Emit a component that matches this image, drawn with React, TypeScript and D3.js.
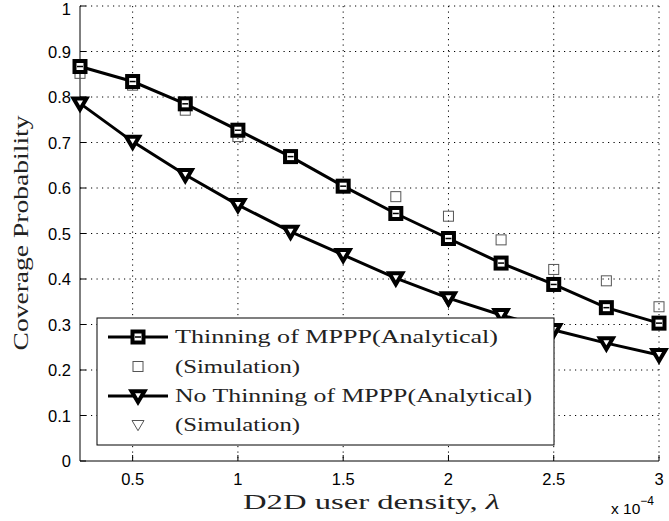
import React from 'react';
import * as d3 from 'd3';

const WIDTH = 669;
const HEIGHT = 521;
const PLOT = { left: 80, right: 659, top: 6, bottom: 461 };

// x values are in units of 1e-4
const densities = [0.25, 0.5, 0.75, 1, 1.25, 1.5, 1.75, 2, 2.25, 2.5, 2.75, 3];
const thinningAnalytical = [0.867, 0.834, 0.785, 0.727, 0.669, 0.604, 0.544, 0.489, 0.435, 0.388, 0.337, 0.303];
const thinningSimulation = [0.852, 0.826, 0.771, 0.713, 0.672, 0.605, 0.581, 0.538, 0.486, 0.421, 0.396, 0.339];
const noThinningAnalytical = [0.786, 0.702, 0.629, 0.563, 0.504, 0.453, 0.402, 0.358, 0.321, 0.288, 0.259, 0.233];
const noThinningSimulation = [0.784, 0.700, 0.627, 0.561, 0.502, 0.451, 0.400, 0.350, 0.318, 0.280, 0.257, 0.236];

const xTicks = [0.5, 1, 1.5, 2, 2.5, 3];
const yTicks = [0, 0.1, 0.2, 0.3, 0.4, 0.5, 0.6, 0.7, 0.8, 0.9, 1];
const legendLabels = [
  'Thinning of MPPP(Analytical)',
  '(Simulation)',
  'No Thinning of MPPP(Analytical)',
  '(Simulation)',
];
const legendWidths = [323, 125, 357, 125];

const SERIF = '"Liberation Serif", "DejaVu Serif", serif';
const SANS = '"Liberation Sans", Arial, sans-serif';

const x = d3.scaleLinear().domain([0.25, 3]).range([PLOT.left, PLOT.right]);
const y = d3.scaleLinear().domain([0, 1]).range([PLOT.bottom, PLOT.top]);

const line = d3.line<number>()
  .x((_, i) => x(densities[i]))
  .y((d) => y(d));

const triPath = (cx: number, cy: number, s: number) =>
  `M${cx - s},${cy - s * 0.75} L${cx + s},${cy - s * 0.75} L${cx},${cy + s * 0.95} Z`;

function BigSquare({ cx, cy }: { cx: number; cy: number }) {
  return (
    <g>
      <rect x={cx - 5.5} y={cy - 5.5} width={11} height={11} fill="#fff" stroke="#000" strokeWidth={4} />
      <line x1={cx - 3} x2={cx + 3} y1={cy} y2={cy} stroke="#000" strokeWidth={1.5} />
    </g>
  );
}

function SimSquare({ cx, cy }: { cx: number; cy: number }) {
  return <rect x={cx - 5} y={cy - 5} width={10} height={10} fill="none" stroke="#555" strokeWidth={1} />;
}

function BigTri({ cx, cy }: { cx: number; cy: number }) {
  return <path d={triPath(cx, cy, 6.5)} fill="#fff" stroke="#000" strokeWidth={4} strokeLinejoin="miter" />;
}

function SimTri({ cx, cy }: { cx: number; cy: number }) {
  return <path d={triPath(cx, cy, 6)} fill="none" stroke="#555" strokeWidth={1} />;
}

export default function App() {
  const legend = { x: 97, y: 318, w: 457, h: 127 };
  const rowY = [337, 366.5, 396, 425];
  return (
    <svg width={WIDTH} height={HEIGHT} style={{ position: 'absolute', left: 0, top: 0, background: '#fff' }}>
      <rect width={WIDTH} height={HEIGHT} fill="#fff" />
      {/* grid */}
      <g stroke="#000" strokeWidth={1} strokeDasharray="1.2,4.3">
        {xTicks.map((t) => (
          <line key={'gx' + t} x1={x(t)} x2={x(t)} y1={PLOT.top} y2={PLOT.bottom} />
        ))}
        {yTicks.filter((t) => t > 0).map((t) => (
          <line key={'gy' + t} x1={PLOT.left} x2={PLOT.right} y1={y(t)} y2={y(t)} />
        ))}
      </g>
      {/* axes */}
      <g stroke="#000" strokeWidth={1}>
        <line x1={PLOT.left} x2={PLOT.left} y1={PLOT.top} y2={PLOT.bottom} />
        <line x1={PLOT.left} x2={PLOT.right} y1={PLOT.bottom} y2={PLOT.bottom} />
        {xTicks.map((t) => (
          <line key={'tx' + t} x1={x(t)} x2={x(t)} y1={PLOT.bottom} y2={PLOT.bottom - 6} />
        ))}
        {yTicks.map((t) => (
          <line key={'ty' + t} x1={PLOT.left} x2={PLOT.left + 6} y1={y(t)} y2={y(t)} />
        ))}
      </g>
      <g fontFamily={SANS} fontSize={16.5} fill="#000">
        {yTicks.map((t) => (
          <text key={'ly' + t} x={PLOT.left - 9} y={Math.max(y(t) + 6, 15)} textAnchor="end">{String(t)}</text>
        ))}
        {xTicks.map((t) => (
          <text key={'lx' + t} x={x(t)} y={485} textAnchor="middle">{String(t)}</text>
        ))}
        <text x={611} y={514} fontSize={15.5}>x 10<tspan fontSize={12} dy={-9}>−4</tspan></text>
      </g>
      {/* series */}
      <path d={line(thinningAnalytical) || ''} fill="none" stroke="#000" strokeWidth={3} />
      <path d={line(noThinningAnalytical) || ''} fill="none" stroke="#000" strokeWidth={3} />
      {noThinningSimulation.map((v, i) => <SimTri key={'st' + i} cx={x(densities[i])} cy={y(v)} />)}
      {thinningSimulation.map((v, i) => <SimSquare key={'ss' + i} cx={x(densities[i])} cy={y(v)} />)}
      {thinningAnalytical.map((v, i) => <BigSquare key={'bs' + i} cx={x(densities[i])} cy={y(v)} />)}
      {noThinningAnalytical.map((v, i) => <BigTri key={'bt' + i} cx={x(densities[i])} cy={y(v)} />)}
      {/* legend */}
      <rect x={legend.x} y={legend.y} width={legend.w} height={legend.h} fill="#fff" stroke="#000" strokeWidth={1} />
      <line x1={108} x2={168} y1={rowY[0]} y2={rowY[0]} stroke="#000" strokeWidth={3} />
      <BigSquare cx={138} cy={rowY[0]} />
      <SimSquare cx={138} cy={rowY[1]} />
      <line x1={108} x2={168} y1={rowY[2]} y2={rowY[2]} stroke="#000" strokeWidth={3} />
      <BigTri cx={138} cy={rowY[2]} />
      <SimTri cx={138} cy={rowY[3]} />
      <g fontFamily={SERIF} fontSize={19} fill="#222">
        {legendLabels.map((l, i) => (
          <text key={'leg' + i} x={175} y={rowY[i] + 6} textLength={legendWidths[i]} lengthAdjust="spacingAndGlyphs">{l}</text>
        ))}
      </g>
      {/* axis titles */}
      <text x={243} y={509} fontFamily={SERIF} fontSize={22} fill="#222" textLength={257} lengthAdjust="spacingAndGlyphs">
        D2D user density, <tspan fontStyle="italic">λ</tspan>
      </text>
      <text transform="translate(28,233) rotate(-90)" textAnchor="middle" fontFamily={SERIF} fontSize={22} fill="#222" textLength={235} lengthAdjust="spacingAndGlyphs">
        Coverage Probability
      </text>
    </svg>
  );
}
